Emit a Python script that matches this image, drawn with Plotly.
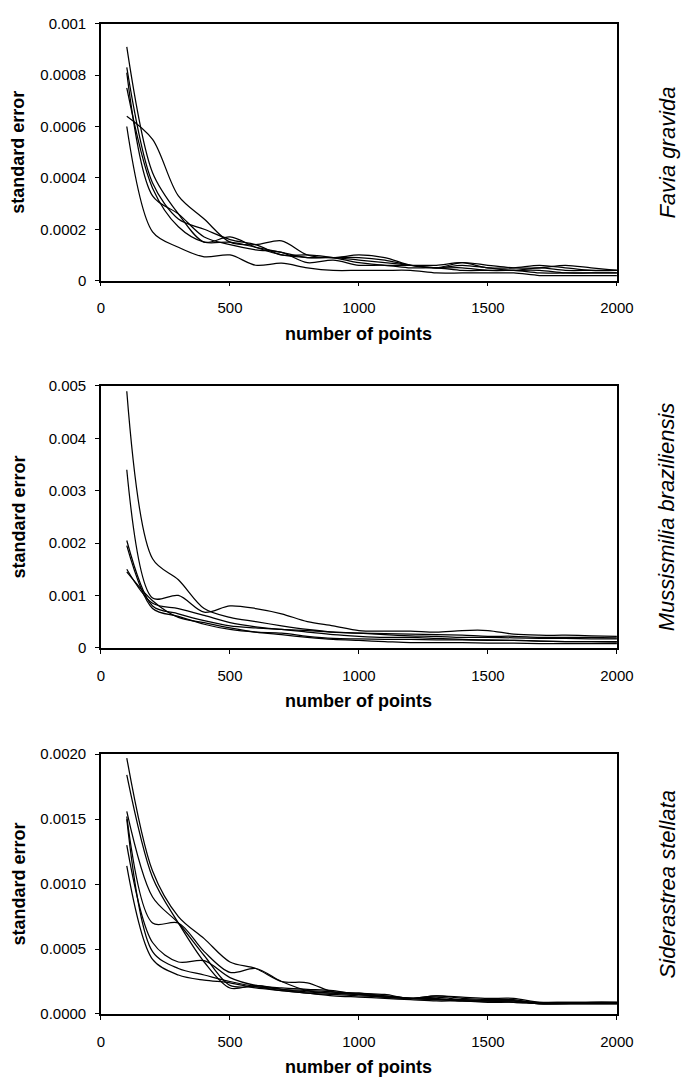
import plotly.graph_objects as go

W, H = 696, 1083

# ---------------- data ----------------
points = [100, 200, 300, 400, 500, 600, 700, 800, 900, 1000,
          1100, 1200, 1300, 1400, 1500, 1600, 1700, 1800, 1900, 2000]

x_ticks = [0, 500, 1000, 1500, 2000]
x_tick_text = ["0", "500", "1000", "1500", "2000"]

favia_ticks = [0, 0.0002, 0.0004, 0.0006, 0.0008, 0.001]
favia_tick_text = ["0", "0.0002", "0.0004", "0.0006", "0.0008", "0.001"]
mussi_ticks = [0, 0.001, 0.002, 0.003, 0.004, 0.005]
mussi_tick_text = ["0", "0.001", "0.002", "0.003", "0.004", "0.005"]
sider_ticks = [0, 0.0005, 0.0010, 0.0015, 0.0020]
sider_tick_text = ["0.0000", "0.0005", "0.0010", "0.0015", "0.0020"]

favia_1 = [0.00091, 0.00042, 0.00026, 0.00015, 0.00017, 0.00013, 0.00010, 0.00009, 0.00009, 0.00008,
           0.00007, 0.00006, 0.00005, 0.00006, 0.00005, 0.00004, 0.00005, 0.00004, 0.00004, 0.00004]
favia_2 = [0.00083, 0.00038, 0.00024, 0.00020, 0.00016, 0.00014, 0.00010, 0.00010, 0.00009, 0.00007,
           0.00006, 0.00006, 0.00006, 0.00007, 0.00005, 0.00005, 0.00006, 0.00005, 0.00004, 0.00004]
favia_3 = [0.00075, 0.00036, 0.00021, 0.00015, 0.00015, 0.00013, 0.00011, 0.00009, 0.00009, 0.00009,
           0.00008, 0.00006, 0.00005, 0.00005, 0.00004, 0.00004, 0.00004, 0.00003, 0.00003, 0.00003]
favia_4 = [0.00064, 0.00055, 0.00033, 0.00024, 0.00015, 0.00014, 0.000155, 0.00010, 0.00009, 0.00010,
           0.00009, 0.00006, 0.00005, 0.00007, 0.00006, 0.00005, 0.00005, 0.00006, 0.00005, 0.00004]
favia_5 = [0.00060, 0.00019, 0.00013, 0.000093, 0.00010, 0.00006, 0.000068, 0.00005, 0.00004, 0.00004,
           0.00004, 0.00004, 0.00003, 0.00003, 0.00003, 0.00003, 0.00002, 0.00002, 0.00002, 0.00002]
favia_6 = [0.00081, 0.00033, 0.00026, 0.00017, 0.00014, 0.00012, 0.00011, 0.00007, 0.00008, 0.00006,
           0.00006, 0.00005, 0.00005, 0.00004, 0.00004, 0.00004, 0.00003, 0.00003, 0.00003, 0.00003]

mussi_1 = [0.0049, 0.0017, 0.0013, 0.00075, 0.00058, 0.00050, 0.00042, 0.00035, 0.00030, 0.00028,
           0.00025, 0.00023, 0.00022, 0.00020, 0.00020, 0.00019, 0.00018, 0.00018, 0.00017, 0.00017]
mussi_2 = [0.0034, 0.00095, 0.0010, 0.00068, 0.00080, 0.00075, 0.00065, 0.00050, 0.00042, 0.00033,
           0.00032, 0.00032, 0.00030, 0.00033, 0.00033, 0.00026, 0.00024, 0.00024, 0.00023, 0.00022]
mussi_3 = [0.00205, 0.00080, 0.00065, 0.00052, 0.00042, 0.00038, 0.00035, 0.00030, 0.00025, 0.00022,
           0.00020, 0.00020, 0.00018, 0.00016, 0.00015, 0.00014, 0.00013, 0.00012, 0.00012, 0.00011]
mussi_4 = [0.00195, 0.00075, 0.00060, 0.00045, 0.00035, 0.00030, 0.00028, 0.00022, 0.00018, 0.00017,
           0.00016, 0.00016, 0.00015, 0.00015, 0.00014, 0.00014, 0.00013, 0.00012, 0.00012, 0.00012]
mussi_5 = [0.00150, 0.00085, 0.00075, 0.00062, 0.00048, 0.00040, 0.00035, 0.00033, 0.00030, 0.00028,
           0.00027, 0.00026, 0.00025, 0.00024, 0.00022, 0.00022, 0.00020, 0.00020, 0.00020, 0.00019]
mussi_6 = [0.00145, 0.00090, 0.00058, 0.00048, 0.00038, 0.00030, 0.00025, 0.00020, 0.00016, 0.00014,
           0.00012, 0.00010, 0.00010, 0.00010, 0.00009, 0.00009, 0.00008, 0.00008, 0.00008, 0.00008]

sider_1 = [0.00197, 0.00110, 0.00075, 0.00058, 0.00040, 0.00035, 0.00025, 0.00024, 0.00017, 0.00016,
           0.00015, 0.00012, 0.00014, 0.00012, 0.00011, 0.00011, 0.00008, 0.00008, 0.00008, 0.00008]
sider_2 = [0.00184, 0.00105, 0.00070, 0.00040, 0.00020, 0.00022, 0.00019, 0.00017, 0.00016, 0.00015,
           0.00013, 0.00012, 0.00012, 0.00010, 0.00010, 0.00010, 0.00009, 0.00009, 0.00009, 0.00009]
sider_3 = [0.00156, 0.00090, 0.00070, 0.00045, 0.00022, 0.00021, 0.00019, 0.00018, 0.00017, 0.00016,
           0.00014, 0.00012, 0.00011, 0.00010, 0.00010, 0.00010, 0.00008, 0.00008, 0.00009, 0.00009]
sider_4 = [0.00152, 0.00070, 0.00070, 0.00048, 0.00032, 0.00035, 0.00025, 0.00018, 0.00016, 0.00015,
           0.00013, 0.00012, 0.00014, 0.00013, 0.00012, 0.00012, 0.00009, 0.00009, 0.00009, 0.00009]
sider_5 = [0.00130, 0.00055, 0.00040, 0.00041, 0.00028, 0.00022, 0.00020, 0.00019, 0.00018, 0.00015,
           0.00014, 0.00012, 0.00013, 0.00011, 0.00010, 0.00010, 0.00008, 0.00008, 0.00008, 0.00008]
sider_6 = [0.00114, 0.00042, 0.00030, 0.00026, 0.00024, 0.00020, 0.00018, 0.00016, 0.00015, 0.00014,
           0.00013, 0.00012, 0.00011, 0.00011, 0.00010, 0.00009, 0.00008, 0.00008, 0.00008, 0.00008]
sider_7 = [0.00150, 0.00048, 0.00035, 0.00030, 0.00025, 0.00021, 0.00018, 0.00016, 0.00014, 0.00013,
           0.00012, 0.00011, 0.00010, 0.00010, 0.00009, 0.00009, 0.00008, 0.00008, 0.00008, 0.00008]

panels = [
    ("Favia gravida", [favia_1, favia_2, favia_3, favia_4, favia_5, favia_6],
     favia_ticks, favia_tick_text, 0.001),
    ("Mussismilia braziliensis", [mussi_1, mussi_2, mussi_3, mussi_4, mussi_5, mussi_6],
     mussi_ticks, mussi_tick_text, 0.005),
    ("Siderastrea stellata", [sider_1, sider_2, sider_3, sider_4, sider_5, sider_6, sider_7],
     sider_ticks, sider_tick_text, 0.002),
]

# ---------------- layout geometry (pixels) ----------------
plot_left, plot_right = 100, 632
panel_px = [(15, 276), (383, 649), (757, 1021)]

FONT = "Liberation Sans, Arial, sans-serif"

fig = go.Figure()
annotations = []
layout = {}

for i, (species, series, yt, ytt, ymax) in enumerate(panels):
    n = "" if i == 0 else str(i + 1)
    top, bot = panel_px[i]
    for s in series:
        fig.add_trace(go.Scatter(
            x=points, y=s, mode="lines",
            line=dict(color="black", width=1.25, shape="spline", smoothing=0.9),
            xaxis="x" + n, yaxis="y" + n, showlegend=False, hoverinfo="skip"))
    layout["xaxis" + n] = dict(
        domain=[plot_left / W, plot_right / W], anchor="y" + n,
        range=[0, 2000], tickvals=x_ticks, ticktext=x_tick_text,
        showline=True, mirror=True, linecolor="black", linewidth=1.5,
        ticks="outside", ticklen=4, tickcolor="black",
        showgrid=False, zeroline=False, ticklabelstandoff=9,
        tickfont=dict(family=FONT, size=15, color="black"))
    layout["yaxis" + n] = dict(
        domain=[1 - bot / H, 1 - top / H], anchor="x" + n,
        range=[0, ymax], tickvals=yt, ticktext=ytt,
        showline=True, mirror=True, linecolor="black", linewidth=1.5,
        ticks="outside", ticklen=4, tickcolor="black",
        showgrid=False, zeroline=False, ticklabelstandoff=6,
        tickfont=dict(family=FONT, size=15, color="black"))
    mid = (top + bot) / 2
    annotations.append(dict(
        text="<b>standard error</b>", x=15 / W, y=1 - mid / H,
        xref="paper", yref="paper", xanchor="center", yanchor="middle",
        textangle=-90, showarrow=False,
        font=dict(family=FONT, size=18, color="black")))
    annotations.append(dict(
        text="<b>number of points</b>", x=(plot_left + plot_right) / 2 / W,
        y=1 - (bot + 54) / H,
        xref="paper", yref="paper", xanchor="center", yanchor="middle",
        showarrow=False, font=dict(family=FONT, size=18, color="black")))
    annotations.append(dict(
        text="<i>" + species + "</i>", x=684 / W, y=1 - mid / H,
        xref="paper", yref="paper", xanchor="center", yanchor="middle",
        textangle=-90, showarrow=False,
        font=dict(family=FONT, size=22, color="black")))

fig.update_layout(
    width=W, height=H, margin=dict(l=0, r=0, t=0, b=0),
    paper_bgcolor="white", plot_bgcolor="white",
    annotations=annotations, **layout)

fig.write_html("out.html", config={"displayModeBar": False},
               post_script="document.body.style.margin='0';document.body.style.overflow='hidden';")
